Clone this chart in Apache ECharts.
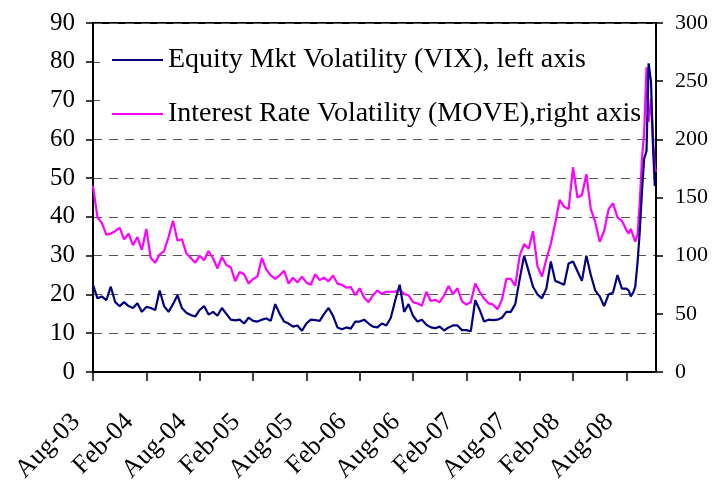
<!DOCTYPE html>
<html><head><meta charset="utf-8">
<script src="https://cdn.jsdelivr.net/npm/echarts@6/dist/echarts.min.js"></script>
<style>html,body{margin:0;padding:0;background:#fff}#c{width:712px;height:485px}</style>
</head><body><div id="c"></div>
<script>
// Observation dates (roughly twice a month, finer near the end)
const dates = [
 '2003-08-01','2003-08-16','2003-09-01','2003-09-16','2003-10-01','2003-10-16','2003-11-01','2003-11-16','2003-12-01','2003-12-16',
 '2004-01-01','2004-01-16','2004-02-01','2004-02-16','2004-03-01','2004-03-16','2004-04-01','2004-04-16','2004-05-01','2004-05-16',
 '2004-06-01','2004-06-16','2004-07-01','2004-07-16','2004-08-01','2004-08-16','2004-09-01','2004-09-16','2004-10-01','2004-10-16',
 '2004-11-01','2004-11-16','2004-12-01','2004-12-16',
 '2005-01-01','2005-01-16','2005-02-01','2005-02-16','2005-03-01','2005-03-16','2005-04-01','2005-04-16','2005-05-01','2005-05-16',
 '2005-06-01','2005-06-16','2005-07-01','2005-07-16','2005-08-01','2005-08-16','2005-09-01','2005-09-16','2005-10-01','2005-10-16',
 '2005-11-01','2005-11-16','2005-12-01','2005-12-16',
 '2006-01-01','2006-01-16','2006-02-01','2006-02-16','2006-03-01','2006-03-16','2006-04-01','2006-04-16','2006-05-01','2006-05-16',
 '2006-06-01','2006-06-16','2006-07-01','2006-07-16','2006-08-01','2006-08-16','2006-09-01','2006-09-16','2006-10-01','2006-10-16',
 '2006-11-01','2006-11-16','2006-12-01','2006-12-16',
 '2007-01-01','2007-01-16','2007-02-01','2007-02-16','2007-03-01','2007-03-16','2007-04-01','2007-04-16','2007-05-01','2007-05-16',
 '2007-06-01','2007-06-16','2007-07-01','2007-07-16','2007-08-01','2007-08-16','2007-09-01','2007-09-16','2007-10-01','2007-10-16',
 '2007-11-01','2007-11-16','2007-12-01','2007-12-16',
 '2008-01-01','2008-01-16','2008-02-01','2008-02-16','2008-03-01','2008-03-16','2008-04-01','2008-04-16','2008-05-01','2008-05-16',
 '2008-06-01','2008-06-16','2008-07-01','2008-07-16','2008-08-01',
 '2008-08-09','2008-08-16','2008-08-24','2008-09-01','2008-09-09','2008-09-16','2008-09-24','2008-10-01','2008-10-09','2008-10-16',
 '2008-10-24','2008-11-01','2008-11-07','2008-11-11'
];
// Equity Mkt Volatility (VIX), left axis
const vix = [
 22.5,19,19.5,18.5,22,18,17,18,17,16.5,
 17.7,15.5,16.8,16.5,16,21,17,15.5,17.5,19.8,
 16.5,15.3,14.7,14.3,16,17,14.8,15.5,14.5,16.5,
 15,13.5,13.3,13.5,12.5,14,13.2,13,13.5,13.8,
 13.2,17.5,15,13,12.5,11.7,12,10.6,12.5,13.5,
 13.4,13.2,15,16.5,14.5,11.5,11,11.5,11.2,13,
 13,13.5,12.5,11.7,11.5,12.5,12,14,18.5,22.5,
 15.5,17.5,14.5,13,13.5,12.2,11.5,11.3,11.7,10.7,
 11.5,12,12,10.8,10.8,10.5,18.5,16,13,13.5,
 13.4,13.5,14,15.5,15.5,17.5,24,30,26,22,
 20,19,21.5,28.5,23.5,23,22.5,28,28.5,26,
 23.5,30,25,21,19.5,17,20,20.5,25,21.5,21.5,
 21,19.5,20.5,22,28.5,36,47,55,57,79.6,75,58,48,49
];
// Interest Rate Volatility (MOVE), right axis
const move = [
 160,133,128,118,119,121,124,114,119,109,
 116,105,123,98,94,101,104,116,130,113,
 114,102,98,94,100,96,104,98,89,99,
 92,90,78,86,84,76,80,82,98,88,
 83,80,83,87,76,81,77,82,77,75,
 84,79,81,78,83,76,75,72.5,73,66,
 72,64,60,66,70,67,69,69,69,71,
 67,66,60,59,57,69,61,62,60,66,
 74,67,72,61,58,60,76,69,63,59,
 58,54,62,80,80,74,100,110,106,121,
 91,82,97,110,128,148,142,140,176,150,
 152,170,140,129,112,121,140,145,133,130,122,
 119,123,117,112,118,145,185,205,262,215,235,200,176,172
];
const tickLabels = ['Aug-03','Feb-04','Aug-04','Feb-05','Aug-05','Feb-06','Aug-06','Feb-07','Aug-07','Feb-08','Aug-08'];
const seriesNames = ['Equity Mkt Volatility (VIX), left axis', 'Interest Rate Volatility (MOVE),right axis'];

function monthIndex(s) {
  const p = s.split('-').map(Number);
  return (p[0] - 2003) * 12 + (p[1] - 8) + (p[2] - 1) / 30;
}
const xs = dates.map(monthIndex);
const xMax = xs[xs.length - 1];
const tickValues = tickLabels.map((_, i) => i * 6);
const FONT = "'Liberation Serif', 'Times New Roman', serif";

const chart = echarts.init(document.getElementById('c'), null, {renderer: 'canvas'});
chart.setOption({
  animation: false,
  backgroundColor: '#fff',
  grid: {left: 93, right: 56, top: 23, bottom: 113, show: true, borderColor: '#000', borderWidth: 2,
         backgroundColor: 'transparent', containLabel: false, outerBoundsMode: 'none'},
  legend: {
    data: seriesNames, orient: 'vertical', left: 100, top: 34,
    icon: 'rect', itemWidth: 51, itemHeight: 2, itemGap: 26, itemTextGap: 7,
    padding: [12, 14, 8, 12], backgroundColor: '#fff', z: 1,
    textStyle: {fontSize: 28, fontFamily: FONT, color: '#000'}
  },
  xAxis: {
    type: 'value', min: 0, max: xMax, interval: 6,
    splitLine: {show: false},
    axisLine: {show: true, lineStyle: {color: '#000', width: 2}},
    axisTick: {show: true, inside: false, length: 9, customValues: tickValues, lineStyle: {color: '#000', width: 1.5}},
    axisLabel: {customValues: tickValues, formatter: v => tickLabels[Math.round(v / 6)] || '',
                rotate: 45, margin: 29, padding: [0, 24, 0, 0], fontSize: 26, fontFamily: FONT, color: '#000'}
  },
  yAxis: [{
    type: 'value', min: 0, max: 90, interval: 10, position: 'left',
    axisLine: {show: true, lineStyle: {color: '#000', width: 2}},
    axisTick: {show: true, inside: false, length: 7, lineStyle: {color: '#000', width: 1.5}},
    axisLabel: {margin: 18, fontSize: 25, fontFamily: FONT, color: '#000'},
    splitLine: {show: true, lineStyle: {color: '#555', width: 1, type: [9, 7]}}
  }, {
    type: 'value', min: 0, max: 300, interval: 50, position: 'right',
    axisLine: {show: true, lineStyle: {color: '#000', width: 2}},
    axisTick: {show: true, inside: false, length: 7, lineStyle: {color: '#000', width: 1.5}},
    axisLabel: {margin: 19, fontSize: 22, fontFamily: FONT, color: '#000'},
    splitLine: {show: false}
  }],
  series: [{
    name: seriesNames[0], type: 'line', yAxisIndex: 0, symbol: 'none', z: 3,
    color: '#000080', lineStyle: {color: '#000080', width: 2.2},
    data: xs.map((x, i) => [x, vix[i]])
  }, {
    name: seriesNames[1], type: 'line', yAxisIndex: 1, symbol: 'none', z: 2,
    color: '#FF00FF', lineStyle: {color: '#FF00FF', width: 2.2},
    data: xs.map((x, i) => [x, move[i]])
  }]
});
</script></body></html>
